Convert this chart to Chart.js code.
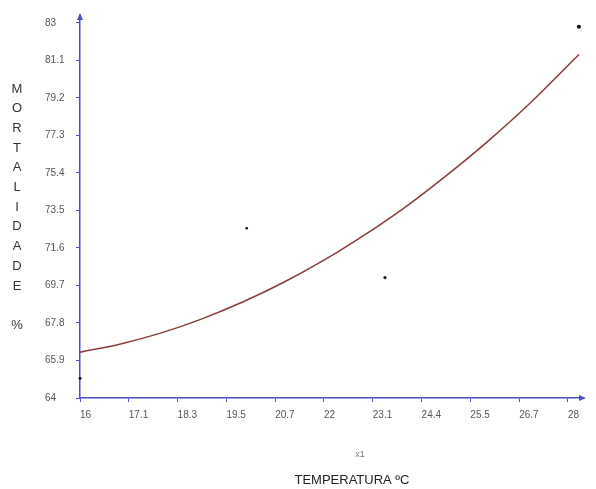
<!DOCTYPE html>
<html>
<head>
<meta charset="utf-8">
<script src="https://cdn.jsdelivr.net/npm/chart.js@4"></script>
<style>
  html, body { margin: 0; padding: 0; background: #fff; }
  #wrap { width: 596px; height: 489px; }
</style>
</head>
<body>
<div id="wrap"><canvas id="c" width="596" height="489"></canvas></div>
<script>
// tick positions and the labels printed under them
const xTickValues = [16, 17.2, 18.4, 19.6, 20.8, 22, 23.2, 24.4, 25.6, 26.8, 28];
const xTickLabels = ['16', '17.1', '18.3', '19.5', '20.7', '22', '23.1', '24.4', '25.5', '26.7', '28'];
const yTickValues = [64, 65.9, 67.8, 69.7, 71.6, 73.5, 75.4, 77.3, 79.2, 81.1, 83];
const yTickLabels = ['64', '65.9', '67.8', '69.7', '71.6', '73.5', '75.4', '77.3', '79.2', '81.1', '83'];

// observed points (temperature, mortality)
const obsTemp = [16, 20.1, 23.5, 28.27];
const obsMort = [65.0, 72.6, 70.1, 82.8];

// fitted curve
const curveTemp = [16, 17, 18, 19, 20, 21, 22, 23, 24, 25, 26, 27, 28.27];
const curveMort = [66.32, 66.74, 67.3, 68.01, 68.86, 69.85, 70.98, 72.26, 73.67, 75.25, 76.95, 78.8, 81.4];

const axisBlue = '#4b4fc8';
const tickFont = { family: 'Liberation Sans', size: 10 };

const axisDecor = {
  id: 'axisDecor',
  afterDraw(chart) {
    const ctx = chart.ctx;
    const a = chart.chartArea;
    ctx.save();
    ctx.fillStyle = axisBlue;
    // arrow at top of y axis
    ctx.beginPath();
    ctx.moveTo(a.left, a.top - 3);
    ctx.lineTo(a.left - 3, a.top + 4);
    ctx.lineTo(a.left + 3, a.top + 4);
    ctx.closePath();
    ctx.fill();
    // arrow at end of x axis
    ctx.beginPath();
    ctx.moveTo(a.right + 3, a.bottom);
    ctx.lineTo(a.right - 4, a.bottom - 3);
    ctx.lineTo(a.right - 4, a.bottom + 3);
    ctx.closePath();
    ctx.fill();

    // vertical y title
    ctx.fillStyle = '#333';
    ctx.font = '13px "Liberation Sans"';
    ctx.textAlign = 'center';
    ctx.textBaseline = 'middle';
    const letters = ['M', 'O', 'R', 'T', 'A', 'L', 'I', 'D', 'A', 'D', 'E'];
    letters.forEach((ch, i) => ctx.fillText(ch, 17, 89 + i * 19.7));
    ctx.fillText('%', 17, 325);

    // x titles
    ctx.fillStyle = '#777';
    ctx.font = '9px "Liberation Sans"';
    ctx.fillText('x1', 360, 455);
    ctx.fillStyle = '#222';
    ctx.font = '13px "Liberation Sans"';
    ctx.fillText('TEMPERATURA ºC', 352, 480);
    ctx.restore();
  }
};

new Chart(document.getElementById('c'), {
  data: {
    datasets: [
      {
        type: 'line',
        data: curveTemp.map((t, i) => ({ x: t, y: curveMort[i] })),
        borderColor: '#8b3a3a',
        borderWidth: 1.5,
        pointRadius: 0,
        cubicInterpolationMode: 'monotone',
        fill: false
      },
      {
        type: 'scatter',
        data: obsTemp.map((t, i) => ({ x: t, y: obsMort[i] })),
        backgroundColor: '#111',
        borderColor: '#111',
        pointRadius: [1.5, 1.3, 1.6, 2],
        borderWidth: 0,
        clip: false
      }
    ]
  },
  options: {
    responsive: false,
    animation: false,
    layout: { padding: { top: 15, right: 13, left: 45, bottom: 0 } },
    plugins: { legend: { display: false }, tooltip: { enabled: false }, title: { display: false } },
    scales: {
      x: {
        type: 'linear',
        min: 16,
        max: 28.37,
        afterBuildTicks: s => { s.ticks = xTickValues.map(v => ({ value: v })); },
        afterFit: s => { s.height = 91; },
        border: { color: axisBlue, width: 1.5 },
        grid: { drawOnChartArea: false, drawTicks: true, tickLength: 4, color: axisBlue },
        ticks: {
          autoSkip: false,
          maxRotation: 0,
          align: 'start',
          padding: 7,
          color: '#555',
          font: tickFont,
          callback: (v, i) => xTickLabels[i]
        }
      },
      y: {
        type: 'linear',
        min: 64,
        max: 83.35,
        afterBuildTicks: s => { s.ticks = yTickValues.map(v => ({ value: v })); },
        afterFit: s => { s.width = 35; },
        border: { color: axisBlue, width: 1.5 },
        grid: { drawOnChartArea: false, drawTicks: true, tickLength: 4, color: axisBlue },
        ticks: {
          autoSkip: false,
          crossAlign: 'far',
          padding: 10,
          color: '#555',
          font: tickFont,
          callback: (v, i) => yTickLabels[i]
        }
      }
    }
  },
  plugins: [axisDecor]
});
</script>
</body>
</html>
